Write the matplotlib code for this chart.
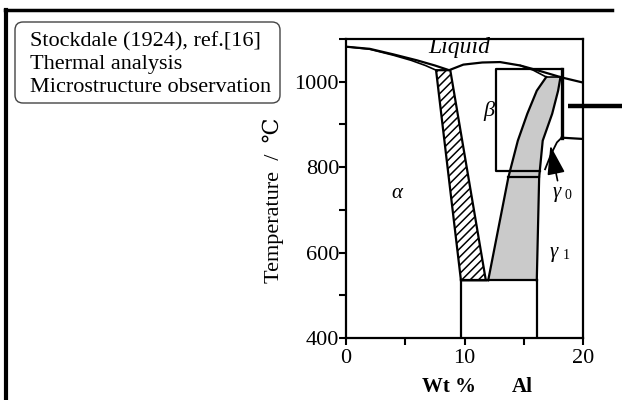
import matplotlib
matplotlib.use("Agg")
import matplotlib.pyplot as plt
from matplotlib.patches import FancyBboxPatch, Polygon
from matplotlib.lines import Line2D

plt.rcParams["font.family"] = ["Liberation Serif", "DejaVu Serif", "DejaVu Sans"]
plt.rcParams["hatch.linewidth"] = 1.1

# Cu-Al phase boundaries (wt% Al, degC)
liquidus_x = [0, 2, 4, 6, 7.5, 8.7, 9.9, 11.5, 13.0, 14.7, 16.5, 18.2, 20]
liquidus_t = [1082, 1077, 1064, 1050, 1038, 1027, 1040, 1045, 1046, 1038, 1024, 1010, 998]
alpha_solidus_x = [0, 2, 4, 5.5, 6.7, 7.6]
alpha_solidus_t = [1082, 1076, 1062, 1050, 1038, 1027]
beta_solidus_x = [14.7, 15.8, 16.9, 18.1]
beta_solidus_t = [1038, 1027, 1011, 1011]

# alpha + beta two-phase field (hatched)
alpha_beta_x = [7.6, 8.8, 11.8, 9.7]
alpha_beta_t = [1027, 1027, 535, 535]

# beta + gamma two-phase field (shaded)
beta_edge_x = [12.0, 13.7, 14.5, 15.3, 16.1, 16.9]
beta_edge_t = [535, 776, 862, 925, 979, 1011]
gamma_edge_x = [16.1, 16.3, 16.6, 17.4, 17.9, 18.1]
gamma_edge_t = [535, 776, 862, 925, 979, 1011]

eutectoid_x = [9.7, 16.1]
eutectoid_t = 535
beta_line_x = [13.7, 16.3]
beta_line_t = 776

gamma0_x = [18.2, 18.2, 20]
gamma0_t = [1030, 869, 866]
gamma_curve_x = [16.8, 17.3, 17.8, 18.2]
gamma_curve_t = [795, 830, 858, 869]

inset_x = [18.2, 12.66, 12.66, 16.4]
inset_t = [1030, 1030, 792, 792]

yticks = [400, 500, 600, 700, 800, 900, 1000, 1100]
yticklabels = ["400", "", "600", "", "800", "", "1000", ""]
xticks = [0, 5, 10, 15, 20]
xticklabels = ["0", "", "10", "", "20"]

legend_lines = ["Stockdale (1924), ref.[16]", "Thermal analysis",
                "Microstructure observation"]

fig = plt.figure(figsize=(6.22, 4.0), dpi=100)
ax = fig.add_axes([346 / 622, 1 - 338 / 400, 237 / 622, 299 / 400])
ax.set_xlim(0, 20)
ax.set_ylim(400, 1100)

lw = 1.6
ax.add_patch(Polygon(list(zip(alpha_beta_x, alpha_beta_t)), closed=True,
                     facecolor="white", edgecolor="black", hatch="////", lw=lw))
gray_x = beta_edge_x + gamma_edge_x[::-1]
gray_t = beta_edge_t + gamma_edge_t[::-1]
ax.add_patch(Polygon(list(zip(gray_x, gray_t)), closed=True,
                     facecolor="#cacaca", edgecolor="none"))

ax.plot(liquidus_x, liquidus_t, color="black", lw=lw)
ax.plot(alpha_solidus_x, alpha_solidus_t, color="black", lw=1.2)
ax.plot(beta_solidus_x, beta_solidus_t, color="black", lw=1.2)
ax.plot(beta_edge_x, beta_edge_t, color="black", lw=lw)
ax.plot(gamma_edge_x, gamma_edge_t, color="black", lw=lw)
ax.plot(eutectoid_x, [eutectoid_t] * 2, color="black", lw=lw)
for x in eutectoid_x:
    ax.plot([x, x], [400, eutectoid_t], color="black", lw=lw)
ax.plot(beta_line_x, [beta_line_t] * 2, color="black", lw=lw)
ax.plot(inset_x, inset_t, color="black", lw=lw)
ax.plot(gamma0_x[:2], gamma0_t[:2], color="black", lw=2.4)
ax.plot(gamma0_x[1:], gamma0_t[1:], color="black", lw=lw)
ax.plot(gamma_curve_x, gamma_curve_t, color="black", lw=1.3)

ax.annotate("", xy=(17.2, 857), xytext=(17.9, 762),
            arrowprops=dict(arrowstyle="-|>,head_length=1.8,head_width=0.55",
                            color="black", lw=1.2))

# pointer bar leading off the right of the axes
ax.plot([18.7, 23.5], [942, 942], color="black", lw=3.2, clip_on=False,
        solid_capstyle="butt")

ax.text(9.6, 1079, "Liquid", fontsize=17, style="italic", ha="center", va="center")
ax.text(12.05, 932, "β", fontsize=16, style="italic", ha="center", va="center")
ax.text(4.3, 738, "α", fontsize=15, style="italic", ha="center", va="center")
ax.text(17.8, 740, "γ", fontsize=15, style="italic", ha="center", va="center")
ax.text(18.7, 733, "0", fontsize=10, ha="center", va="center")
ax.text(17.5, 600, "γ", fontsize=15, style="italic", ha="center", va="center")
ax.text(18.6, 592, "1", fontsize=10, ha="center", va="center")

ax.set_xticks(xticks)
ax.set_xticklabels(xticklabels)
ax.set_yticks(yticks)
ax.set_yticklabels(yticklabels)
ax.tick_params(direction="out", length=5, width=1.5, labelsize=16, pad=0)
ax.tick_params(axis="x", pad=3)
for side in ax.spines.values():
    side.set_linewidth(1.6)

fig.text(273 / 622, 0.5, "Temperature  /  ℃", rotation=90, fontsize=16,
         ha="center", va="center")
fig.text(449 / 622, 1 - 387 / 400, "Wt %", fontsize=15, fontweight="bold",
         ha="center", va="center")
fig.text(522 / 622, 1 - 387 / 400, "Al", fontsize=15, fontweight="bold",
         ha="center", va="center")

# reference box in the upper left corner (inch units)
box = FancyBboxPatch((0.15, 2.97), 2.65, 0.81,
                     boxstyle="round,pad=0,rounding_size=0.08",
                     transform=fig.dpi_scale_trans, facecolor="white",
                     edgecolor="#444444", lw=1.0)
fig.add_artist(box)
for i, line in enumerate(legend_lines):
    fig.text(0.30, 3.58 - 0.225 * i, line, fontsize=16, ha="left",
             va="center", transform=fig.dpi_scale_trans)

fig.add_artist(Line2D([6 / 622, 6 / 622], [0, 1 - 10 / 400], color="black",
                      lw=3, transform=fig.transFigure))
fig.add_artist(Line2D([5 / 622, 612 / 622], [1 - 10 / 400, 1 - 10 / 400],
                      color="black", lw=2.5, transform=fig.transFigure))

fig.savefig("out.png", dpi=100)
